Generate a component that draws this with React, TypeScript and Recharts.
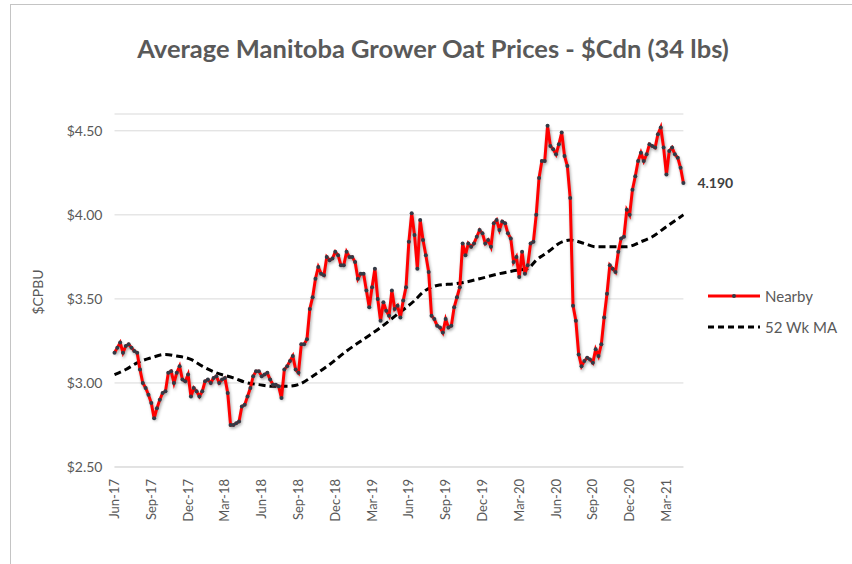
import { LineChart, Line, XAxis, YAxis, CartesianGrid } from 'recharts'

// ── Data (weekly, Jun-17 .. May-21) ─────────────────────────────────────────
const tickWeeks = [0, 13, 26, 39, 52, 65, 78, 91, 104, 117, 130, 143, 156, 169, 182, 195]
const tickLabels = [
  'Jun-17', 'Sep-17', 'Dec-17', 'Mar-18', 'Jun-18', 'Sep-18', 'Dec-18', 'Mar-19',
  'Jun-19', 'Sep-19', 'Dec-19', 'Mar-20', 'Jun-20', 'Sep-20', 'Dec-20', 'Mar-21',
]

const nearby = [
  3.18, 3.21, 3.24, 3.18, 3.22, 3.23, 3.21, 3.19, 3.18, 3.08,
  3.00, 2.97, 2.93, 2.88, 2.79, 2.85, 2.90, 2.94, 2.95, 3.06,
  3.07, 3.00, 3.06, 3.10, 3.02, 3.01, 3.05, 2.92, 2.97, 2.95,
  2.92, 2.95, 3.01, 3.02, 3.00, 3.03, 3.04, 3.00, 3.02, 3.03,
  2.94, 2.75, 2.75, 2.76, 2.77, 2.86, 2.87, 2.92, 2.97, 3.04,
  3.07, 3.07, 3.04, 3.05, 3.06, 3.02, 2.99, 2.99, 2.98, 2.91,
  3.08, 3.10, 3.13, 3.16, 3.08, 3.06,
  3.23, 3.23, 3.26, 3.44, 3.51, 3.62, 3.69, 3.65, 3.64, 3.75,
  3.73, 3.74, 3.78, 3.76, 3.70, 3.70, 3.78, 3.75, 3.75, 3.72,
  3.62, 3.65, 3.65, 3.55, 3.45, 3.57, 3.68, 3.50, 3.37, 3.48,
  3.43, 3.40, 3.55, 3.44, 3.46, 3.39, 3.49, 3.57,
  3.84, 4.01, 3.88, 3.68, 3.97, 3.85, 3.76, 3.66,
  3.40, 3.38, 3.34, 3.33, 3.30, 3.38, 3.33, 3.34, 3.45, 3.51,
  3.57, 3.83, 3.76, 3.83, 3.81, 3.83, 3.87, 3.91, 3.89, 3.83,
  3.85, 3.81, 3.95, 3.97, 3.91, 3.96, 3.95, 3.89, 3.86, 3.72,
  3.75, 3.63, 3.78, 3.65, 3.70, 3.83, 3.84, 4.00, 4.22, 4.32, 4.32,
  4.53, 4.41, 4.39, 4.36, 4.42, 4.49, 4.35, 4.29, 4.10, 3.46, 3.37, 3.17, 3.10,
  3.13, 3.15, 3.14, 3.12, 3.20, 3.16, 3.23, 3.39, 3.53, 3.70,
  3.68, 3.66, 3.78, 3.86, 3.87, 4.03, 4.00, 4.15, 4.23, 4.32,
  4.37, 4.32, 4.36, 4.42, 4.41, 4.40, 4.48, 4.52,
  4.40, 4.24, 4.38, 4.40, 4.36, 4.34, 4.28, 4.19,
]

// 52 week moving average, read at sample weeks
const maWeeks = [
  0, 4, 8, 13, 18, 22, 27, 31, 36, 42, 47, 51, 56, 61, 65, 70, 76, 82, 88, 94,
  100, 106, 109, 114, 120, 124, 129, 136, 142, 146, 149, 154, 157, 161, 166, 170,
  175, 181, 186, 190, 195, 201,
]
const maValues = [
  3.05, 3.08, 3.12, 3.15, 3.17, 3.16, 3.14, 3.10, 3.06, 3.03, 3.00, 2.99, 2.98, 2.98, 2.99, 3.04, 3.11, 3.19, 3.26, 3.33,
  3.41, 3.49, 3.54, 3.58, 3.59, 3.60, 3.62, 3.65, 3.67, 3.68, 3.73, 3.79, 3.83, 3.85, 3.83, 3.81,
  3.81, 3.81, 3.84, 3.87, 3.93, 4.00,
]

const nearbyData = nearby.map((price, week) => ({ week, price }))
const maData = maWeeks.map((week, i) => ({ week, ma: maValues[i] }))
const LAST = nearby.length - 1

const FONT = 'Lato, "Open Sans", sans-serif'
const TEXT = '#595959'

// ── Ticks / labels ──────────────────────────────────────────────────────────
function XTick({ x, y, payload }: { x: number; y: number; payload: { value: number } }) {
  const idx = tickWeeks.indexOf(payload.value)
  const ty = y + 4
  return (
    <text x={x} y={ty} transform={`rotate(-90, ${x}, ${ty})`} textAnchor="end" dy="0.35em"
      fill={TEXT} fontSize={13} fontFamily={FONT}>
      {tickLabels[idx]}
    </text>
  )
}

function LastLabel(props: { x?: number; y?: number; index?: number }) {
  if (props.index !== LAST) return <g />
  return (
    <text x={(props.x ?? 0) + 14} y={props.y} dy="0.35em" fill="#404040" fontSize={14}
      fontWeight={700} fontFamily={FONT}>
      {nearby[LAST].toFixed(3)}
    </text>
  )
}

function LegendBox() {
  return (
    <div style={{ fontFamily: FONT, fontSize: 15, color: TEXT }}>
      <div style={{ display: 'flex', alignItems: 'center', height: 20, marginBottom: 11 }}>
        <svg width={57} height={10}>
          <line x1={0} y1={5} x2={52} y2={5} stroke="#ff0000" strokeWidth={3} />
          <circle cx={26} cy={5} r={2} fill="#333a45" />
        </svg>
        <span>Nearby</span>
      </div>
      <div style={{ display: 'flex', alignItems: 'center', height: 20 }}>
        <svg width={57} height={10}>
          <line x1={0} y1={5} x2={52} y2={5} stroke="#000" strokeWidth={3} strokeDasharray="6 4" />
        </svg>
        <span>52 Wk MA</span>
      </div>
    </div>
  )
}

export default function App() {
  return (
    <div style={{ position: 'absolute', left: 0, top: 0, width: 852, height: 564, background: '#fff', overflow: 'hidden' }}>
      <style>{`.nearby .recharts-line-curve { filter: drop-shadow(1px 2px 1.5px rgba(0,0,0,0.35)); }`}</style>
      <div style={{ position: 'absolute', left: 10, top: 4, width: 860, height: 600, border: '1px solid #c4c4c4' }} />
      <div style={{
        position: 'absolute', left: 0, width: 866, top: 33, textAlign: 'center',
        fontFamily: FONT, fontSize: 25.5, fontWeight: 700, color: TEXT,
      }}>
        Average Manitoba Grower Oat Prices - $Cdn (34 lbs)
      </div>
      <div style={{
        position: 'absolute', left: 37, top: 292, transform: 'translate(-50%, -50%) rotate(-90deg)',
        fontFamily: FONT, fontSize: 14, color: TEXT, whiteSpace: 'nowrap',
      }}>
        $CPBU
      </div>
      <div style={{ position: 'absolute', left: 0, top: 0 }}>
        <LineChart width={852} height={564} data={nearbyData}
          margin={{ top: 114, right: 168.6, bottom: 37, left: 54.5 }}>
          <CartesianGrid vertical={false} stroke="#d9d9d9" />
          <XAxis type="number" dataKey="week" domain={[0, 201]} ticks={tickWeeks} interval={0}
            tick={XTick as never} tickLine={false} axisLine={{ stroke: '#d9d9d9' }} height={60} />
          <YAxis type="number" domain={[2.5, 4.6]} ticks={[2.5, 3, 3.5, 4, 4.5]} allowDataOverflow
            tickFormatter={(v: number) => `$${v.toFixed(2)}`} width={60} tickLine={false} axisLine={false}
            tick={{ fill: TEXT, fontSize: 14, fontFamily: FONT }} tickMargin={6} />
          <Line data={maData} dataKey="ma" type="monotone" stroke="#000" strokeWidth={3}
            strokeDasharray="7 4" dot={false} isAnimationActive={false} />
          <Line className="nearby" dataKey="price" type="linear" stroke="#ff0000" strokeWidth={3}
            dot={{ r: 2, fill: '#333a45', stroke: 'none' }} isAnimationActive={false}
            label={<LastLabel />} />
        </LineChart>
      </div>
      <div style={{ position: 'absolute', left: 708, top: 286 }}>
        <LegendBox />
      </div>
    </div>
  )
}
